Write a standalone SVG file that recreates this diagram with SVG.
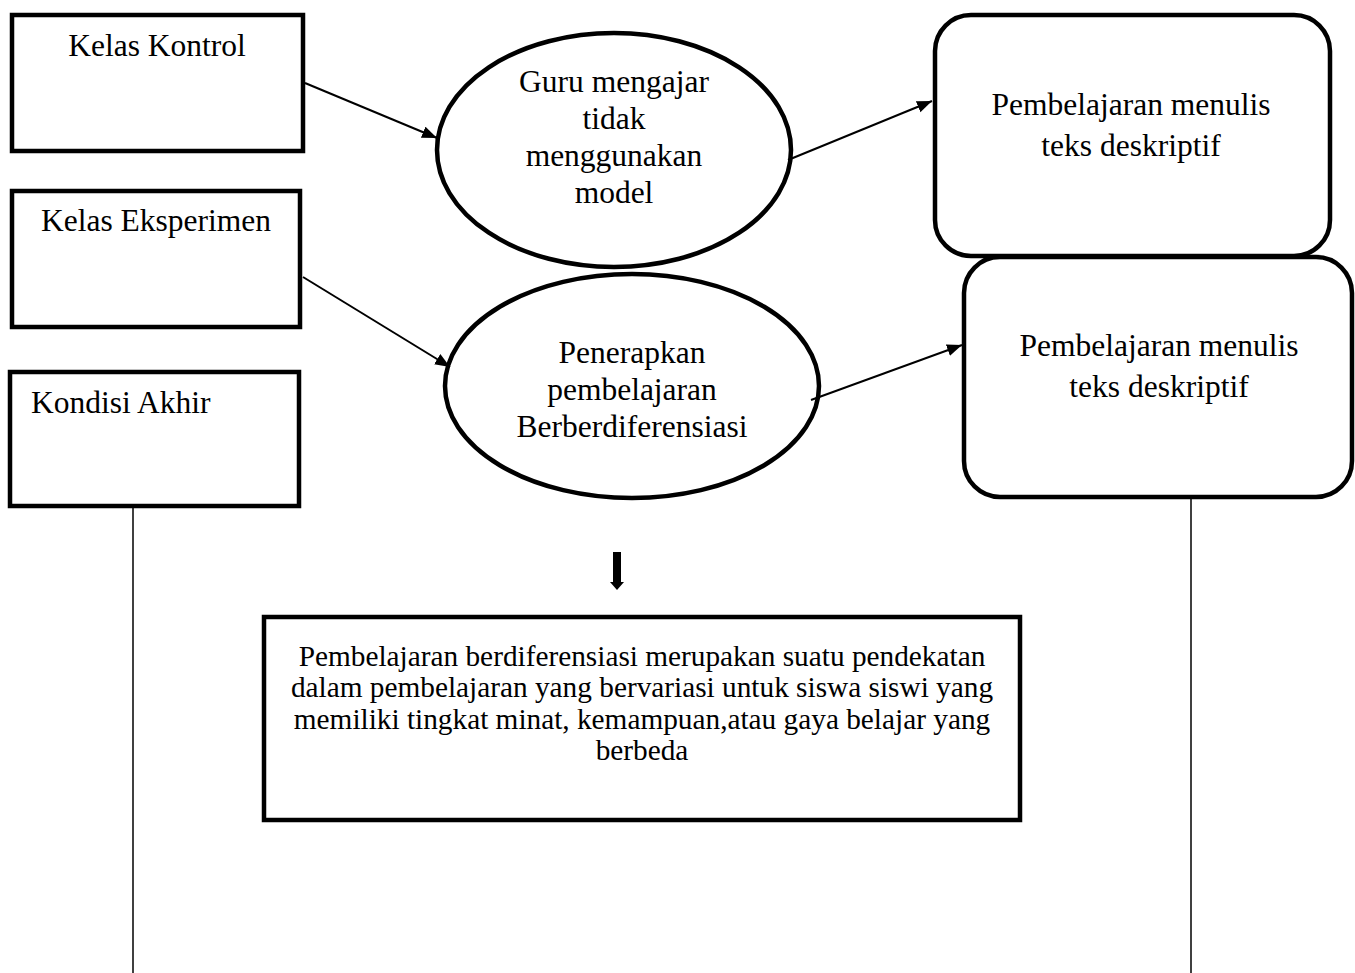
<svg xmlns="http://www.w3.org/2000/svg" width="1355" height="973" viewBox="0 0 1355 973">
<style>
.box{fill:#fff;stroke:#000;stroke-width:4.5}
.t{font-family:"Liberation Serif","Times New Roman",serif;font-size:31.5px;fill:#000}
.c{text-anchor:middle}
.s{font-family:"Liberation Serif","Times New Roman",serif;font-size:29.3px;fill:#000;text-anchor:middle}
.ln{stroke:#000;stroke-width:2;fill:none}
.vl{stroke:#000;stroke-width:1.5;fill:none}
</style>
<defs>
<marker id="ah" markerWidth="16" markerHeight="13" refX="15" refY="6" orient="auto" markerUnits="userSpaceOnUse">
<path d="M0,0 L15,6 L0,12 z" fill="#000"/>
</marker>
</defs>
<rect width="1355" height="973" fill="#fff"/>
<g id="kelas-kontrol">
<rect class="box" x="12" y="15" width="291" height="136"/>
<text class="t c" x="157" y="56">Kelas Kontrol</text>
</g>
<g id="kelas-eksperimen">
<rect class="box" x="12" y="191" width="288" height="136"/>
<text class="t c" x="156" y="231">Kelas Eksperimen</text>
</g>
<g id="kondisi-akhir">
<rect class="box" x="10" y="372" width="289" height="134"/>
<text class="t" x="31" y="413">Kondisi Akhir</text>
</g>
<g id="guru-mengajar">
<ellipse class="box" cx="614" cy="150" rx="177" ry="117"/>
<text class="t c" x="614" y="92">Guru mengajar</text>
<text class="t c" x="614" y="129">tidak</text>
<text class="t c" x="614" y="166">menggunakan</text>
<text class="t c" x="614" y="203">model</text>
</g>
<g id="penerapkan">
<ellipse class="box" cx="632" cy="386" rx="187" ry="112"/>
<text class="t c" x="632" y="363">Penerapkan</text>
<text class="t c" x="632" y="400">pembelajaran</text>
<text class="t c" x="632" y="437">Berberdiferensiasi</text>
</g>
<g id="hasil-kontrol">
<rect class="box" x="935" y="15" width="395" height="241" rx="36" ry="36"/>
<text class="t c" x="1131" y="115">Pembelajaran menulis</text>
<text class="t c" x="1131" y="156">teks deskriptif</text>
</g>
<g id="hasil-eksperimen">
<rect class="box" x="964" y="257" width="388" height="240" rx="36" ry="36"/>
<text class="t c" x="1159" y="356">Pembelajaran menulis</text>
<text class="t c" x="1159" y="397">teks deskriptif</text>
</g>
<g id="definisi">
<rect class="box" x="264" y="617" width="756" height="203"/>
<text class="s" x="642" y="666">Pembelajaran berdiferensiasi merupakan suatu pendekatan</text>
<text class="s" x="642" y="697">dalam pembelajaran yang bervariasi untuk siswa siswi yang</text>
<text class="s" x="642" y="729">memiliki tingkat minat, kemampuan,atau gaya belajar yang</text>
<text class="s" x="642" y="760">berbeda</text>
</g>
<g id="connectors">
<line class="ln" x1="305" y1="83" x2="437" y2="138" marker-end="url(#ah)"/>
<line class="ln" x1="788" y1="160" x2="932" y2="101" marker-end="url(#ah)"/>
<line class="ln" x1="303" y1="277" x2="450" y2="367" marker-end="url(#ah)"/>
<line class="ln" x1="811" y1="400" x2="962" y2="345" marker-end="url(#ah)"/>
<path d="M613,552 H621 V582 H624 L617,590 L610,582 H613 Z" fill="#000"/>
<line class="vl" x1="133" y1="506" x2="133" y2="973"/>
<line class="vl" x1="1191" y1="497" x2="1191" y2="973"/>
</g>
</svg>
